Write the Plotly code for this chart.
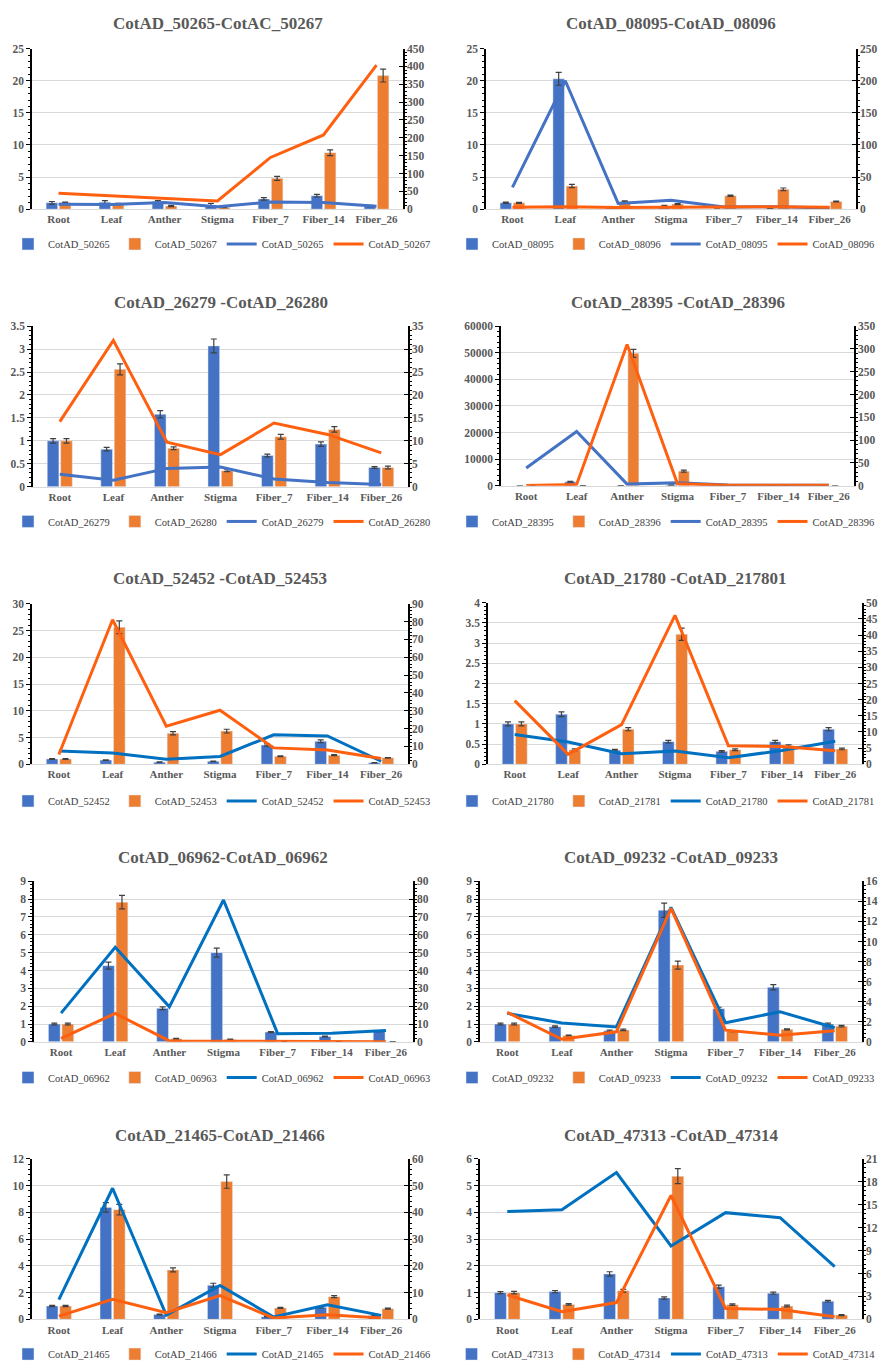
import plotly.graph_objects as go

# ---------------- data ----------------
categories = ["Root", "Leaf", "Anther", "Stigma", "Fiber_7", "Fiber_14", "Fiber_26"]

p1_title = "CotAD_50265-CotAC_50267"
p1_names = ["CotAD_50265", "CotAD_50267"]
p1_bar_blue = [1.0, 1.1, 1.2, 0.6, 1.6, 2.1, 0.5]
p1_err_blue = [0.2, 0.25, 0.15, 0.3, 0.2, 0.2, 0.1]
p1_bar_orange = [1.0, 0.8, 0.5, 0.3, 4.8, 8.8, 20.8]
p1_err_orange = [0.1, 0.1, 0.1, 0.05, 0.3, 0.45, 1.0]
p1_line_blue = [14, 13, 19, 7, 20, 19, 8]
p1_line_orange = [45, 38, 30, 23, 145, 208, 404]
p1_left_axis = [25, 5]
p1_right_axis = [450, 50]

p2_title = "CotAD_08095-CotAD_08096"
p2_names = ["CotAD_08095", "CotAD_08096"]
p2_bar_blue = [1.0, 20.3, 0.3, 0.5, 0.05, 0.1, 0.05]
p2_err_blue = [0.1, 1.0, 0.05, 0.1, 0.02, 0.02, 0.02]
p2_bar_orange = [1.0, 3.6, 1.2, 0.8, 2.1, 3.1, 1.2]
p2_err_orange = [0.08, 0.25, 0.1, 0.08, 0.1, 0.2, 0.08]
p2_line_blue = [34, 200, 9, 14, 3.5, 4, 2]
p2_line_orange = [3, 4, 2.5, 3, 3.5, 4, 3]
p2_left_axis = [25, 5]
p2_right_axis = [250, 50]

p3_title = "CotAD_26279 -CotAD_26280"
p3_names = ["CotAD_26279", "CotAD_26280"]
p3_bar_blue = [1.0, 0.82, 1.58, 3.07, 0.68, 0.93, 0.42]
p3_err_blue = [0.05, 0.04, 0.08, 0.15, 0.03, 0.05, 0.02]
p3_bar_orange = [1.0, 2.56, 0.84, 0.35, 1.09, 1.25, 0.42]
p3_err_orange = [0.05, 0.12, 0.03, 0.02, 0.05, 0.06, 0.03]
p3_line_blue = [2.7, 1.4, 4.0, 4.3, 1.7, 0.9, 0.5]
p3_line_orange = [14.2, 31.9, 9.7, 7.0, 13.9, 11.4, 7.4]
p3_left_axis = [3.5, 0.5]
p3_right_axis = [35, 5]

p4_title = "CotAD_28395 -CotAD_28396"
p4_names = ["CotAD_28395", "CotAD_28396"]
p4_bar_blue = [1, 1500, 50, 300, 5, 5, 5]
p4_err_blue = [0.1, 150, 10, 30, 1, 1, 1]
p4_bar_orange = [1, 50, 49800, 5500, 10, 10, 10]
p4_err_orange = [0.1, 5, 1500, 400, 1, 1, 1]
p4_line_blue = [39, 119, 3.6, 6.5, 1.5, 1, 1]
p4_line_orange = [0.7, 3, 310, 4.4, 1, 1, 1]
p4_left_axis = [60000, 10000]
p4_right_axis = [350, 50]

p5_title = "CotAD_52452 -CotAD_52453"
p5_names = ["CotAD_52452", "CotAD_52453"]
p5_bar_blue = [1.0, 0.8, 0.4, 0.55, 3.6, 4.3, 0.3]
p5_err_blue = [0.08, 0.05, 0.05, 0.05, 0.2, 0.25, 0.03]
p5_bar_orange = [1.0, 25.6, 5.8, 6.2, 1.5, 1.7, 1.2]
p5_err_orange = [0.08, 1.2, 0.3, 0.35, 0.08, 0.1, 0.06]
p5_line_blue = [7.4, 6.3, 2.8, 4.4, 16.5, 15.9, 1.7]
p5_line_orange = [5.5, 81, 21.3, 30.3, 9.2, 8, 3.3]
p5_left_axis = [30, 5]
p5_right_axis = [90, 10]

p6_title = "CotAD_21780 -CotAD_217801"
p6_names = ["CotAD_21780", "CotAD_21781"]
p6_bar_blue = [1.0, 1.24, 0.35, 0.56, 0.32, 0.56, 0.87]
p6_err_blue = [0.05, 0.06, 0.02, 0.03, 0.02, 0.03, 0.04]
p6_bar_orange = [1.0, 0.36, 0.87, 3.22, 0.36, 0.46, 0.38]
p6_err_orange = [0.05, 0.02, 0.04, 0.15, 0.02, 0.02, 0.02]
p6_line_blue = [9.2, 6.9, 3.3, 4.1, 2.0, 4.3, 7.1]
p6_line_orange = [19.7, 3.1, 12.3, 46.1, 5.7, 5.5, 4.2]
p6_left_axis = [4, 0.5]
p6_right_axis = [50, 5]

p7_title = "CotAD_06962-CotAD_06962"
p7_names = ["CotAD_06962", "CotAD_06963"]
p7_bar_blue = [1.0, 4.27, 1.88, 5.0, 0.55, 0.3, 0.6]
p7_err_blue = [0.05, 0.2, 0.08, 0.25, 0.03, 0.02, 0.03]
p7_bar_orange = [1.0, 7.83, 0.18, 0.13, 0.01, 0.01, 0.01]
p7_err_orange = [0.05, 0.38, 0.02, 0.02, 0, 0, 0]
p7_line_blue = [16.1, 53, 19.6, 79.5, 4.6, 4.8, 6.3]
p7_line_orange = [2, 15.9, 0.5, 0.3, 0.2, 0.1, 0.1]
p7_left_axis = [9, 1]
p7_right_axis = [90, 10]

p8_title = "CotAD_09232 -CotAD_09233"
p8_names = ["CotAD_09232", "CotAD_09233"]
p8_bar_blue = [1.0, 0.85, 0.62, 7.38, 1.86, 3.06, 1.0]
p8_err_blue = [0.05, 0.04, 0.04, 0.4, 0.08, 0.15, 0.05]
p8_bar_orange = [1.0, 0.36, 0.67, 4.3, 0.6, 0.7, 0.88]
p8_err_orange = [0.05, 0.02, 0.04, 0.22, 0.03, 0.03, 0.04]
p8_line_blue = [2.84, 1.88, 1.49, 13.4, 1.9, 3.0, 1.4]
p8_line_orange = [2.94, 0.26, 1.0, 13.3, 1.16, 0.66, 1.1]
p8_left_axis = [9, 1]
p8_right_axis = [16, 2]

p9_title = "CotAD_21465-CotAD_21466"
p9_names = ["CotAD_21465", "CotAD_21466"]
p9_bar_blue = [1.0, 8.37, 0.37, 2.55, 0.2, 0.9, 0.3]
p9_err_blue = [0.05, 0.35, 0.03, 0.15, 0.02, 0.05, 0.02]
p9_bar_orange = [1.0, 8.2, 3.7, 10.3, 0.86, 1.7, 0.8]
p9_err_orange = [0.05, 0.4, 0.15, 0.5, 0.04, 0.08, 0.04]
p9_line_blue = [7.4, 49, 1.6, 12.7, 0.9, 5.5, 1.5]
p9_line_orange = [1.2, 7.5, 2.5, 8.9, 0.5, 1.7, 0.5]
p9_left_axis = [12, 2]
p9_right_axis = [60, 10]

p10_title = "CotAD_47313 -CotAD_47314"
p10_names = ["CotAD_47313", "CotAD_47314"]
p10_bar_blue = [1.0, 1.04, 1.7, 0.8, 1.22, 0.98, 0.68]
p10_err_blue = [0.04, 0.04, 0.08, 0.04, 0.06, 0.04, 0.03]
p10_bar_orange = [1.0, 0.56, 1.07, 5.35, 0.55, 0.5, 0.16]
p10_err_orange = [0.05, 0.03, 0.05, 0.28, 0.03, 0.03, 0.02]
p10_line_blue = [14.1, 14.35, 19.2, 9.6, 13.96, 13.3, 6.9]
p10_line_orange = [3.2, 1.0, 2.2, 16.2, 1.43, 1.3, 0.35]
p10_left_axis = [6, 1]
p10_right_axis = [21, 3]

panels = []
for k in range(1, 11):
    g = globals()
    panels.append(dict(
        title=g[f"p{k}_title"], names=g[f"p{k}_names"],
        bar_blue=g[f"p{k}_bar_blue"], err_blue=g[f"p{k}_err_blue"],
        bar_orange=g[f"p{k}_bar_orange"], err_orange=g[f"p{k}_err_orange"],
        line_blue=g[f"p{k}_line_blue"], line_orange=g[f"p{k}_line_orange"],
        left=g[f"p{k}_left_axis"], right=g[f"p{k}_right_axis"],
    ))

# ---------------- layout geometry (pixels) ----------------
W, H = 881, 1369
geom = [(32, 403, 43, 205), (486, 856, 43, 205),
        (33, 408, 323, 485), (501, 854, 323, 484),
        (32, 408, 603, 765), (488, 862, 602, 765),
        (34, 413, 883, 1045), (480, 862, 883, 1045),
        (32, 408, 1163, 1325), (480, 862, 1163, 1325)]
title_y = [18, 18, 299, 299, 578, 578, 859, 859, 1139, 1139]
legend_y = [240, 240, 520, 520, 802, 802, 1081, 1081, 1360, 1360]
legend_cx = [222, 666, 222, 666, 222, 666, 222, 666, 222, 666]

BAR_BLUE = "#4472C4"
BAR_ORANGE = "#ED7D31"
LINE_ORANGE = "#FF6010"
line_blue_colors = ["#4472C4"] * 4 + ["#0070C0"] * 6
FONT = "Liberation Serif, Times New Roman, DejaVu Serif, serif"
TXT = "#595959"

fig = go.Figure()
layout = dict(
    width=W, height=H, margin=dict(l=0, r=0, t=0, b=0),
    paper_bgcolor="white", plot_bgcolor="white",
    barmode="group", bargap=0.5, bargroupgap=0.13,
    font=dict(family=FONT, color=TXT),
    annotations=[],
)

for i, p in enumerate(panels):
    n = i + 1
    xa = "x" if n == 1 else f"x{n}"
    yl = f"y{2*i+1}" if i > 0 else "y"
    yr = f"y{2*i+2}"
    lg = "legend" if n == 1 else f"legend{n}"
    l, r, t, b = geom[i]
    err_style = dict(type="data", color="#404040", thickness=1.2, width=3)

    fig.add_trace(go.Bar(x=categories, y=p["bar_blue"], name=p["names"][0],
                         marker_color=BAR_BLUE, xaxis=xa, yaxis=yl, legend=lg,
                         offsetgroup="a",
                         error_y=dict(array=p["err_blue"], **err_style)))
    fig.add_trace(go.Bar(x=categories, y=p["bar_orange"], name=p["names"][1],
                         marker_color=BAR_ORANGE, xaxis=xa, yaxis=yl, legend=lg,
                         offsetgroup="b",
                         error_y=dict(array=p["err_orange"], **err_style)))
    fig.add_trace(go.Scatter(x=categories, y=p["line_blue"], name=p["names"][0],
                             mode="lines", line=dict(color=line_blue_colors[i], width=3),
                             xaxis=xa, yaxis=yr, legend=lg))
    fig.add_trace(go.Scatter(x=categories, y=p["line_orange"], name=p["names"][1],
                             mode="lines", line=dict(color=LINE_ORANGE, width=3),
                             xaxis=xa, yaxis=yr, legend=lg))

    tickfont = dict(family=FONT, size=11.5, color=TXT, weight="bold")
    xtickfont = dict(family=FONT, size=11, color=TXT, weight="bold")
    xkey = "xaxis" if n == 1 else f"xaxis{n}"
    layout[xkey] = dict(
        domain=[l / W, r / W], anchor=yl, type="category",
        categoryorder="array", categoryarray=categories,
        showline=True, linecolor="#D9D9D9", linewidth=1,
        ticks="", showgrid=False, tickfont=xtickfont, tickangle=0,
        fixedrange=True, automargin=False,
    )
    ylkey = "yaxis" if i == 0 else f"yaxis{2*i+1}"
    layout[ylkey] = dict(
        domain=[1 - b / H, 1 - t / H], anchor=xa,
        range=[0, p["left"][0]], dtick=p["left"][1], tick0=0,
        showline=True, linecolor="black", linewidth=1.5,
        ticks="outside", ticklen=4, tickcolor="black", tickwidth=1,
        minor=dict(ticks="outside", ticklen=2, dtick=p["left"][1] / 5,
                   tickcolor="black", showgrid=False),
        showgrid=True, gridcolor="#D9D9D9", gridwidth=1, zeroline=False,
        tickfont=tickfont, exponentformat="none",
        tickformat="d" if p["left"][0] >= 1000 else "",
    )
    yrkey = f"yaxis{2*i+2}"
    layout[yrkey] = dict(
        overlaying=yl, side="right", anchor=xa,
        range=[0, p["right"][0]], dtick=p["right"][1], tick0=0,
        showline=True, linecolor="black", linewidth=1.5,
        ticks="inside", ticklen=4, tickcolor="black", tickwidth=1,
        minor=dict(ticks="outside", ticklen=2, dtick=p["right"][1] / 5,
                   tickcolor="black", showgrid=False),
        showgrid=False, zeroline=False, tickfont=tickfont,
        exponentformat="none",
    )
    layout[lg] = dict(
        orientation="h", x=legend_cx[i] / W, xanchor="center",
        y=1 - legend_y[i] / H, yanchor="middle",
        font=dict(family=FONT, size=10.5, color="#404040"),
        bgcolor="rgba(0,0,0,0)", itemwidth=30, traceorder="normal",
    )
    layout["annotations"].append(dict(
        text=p["title"], xref="paper", yref="paper",
        x=(l + r) / 2 / W, y=1 - title_y[i] / H, xanchor="center", yanchor="middle",
        showarrow=False, font=dict(family=FONT, size=17, color=TXT, weight="bold"),
    ))

fig.update_layout(**layout)
fig.write_html("out.html")
